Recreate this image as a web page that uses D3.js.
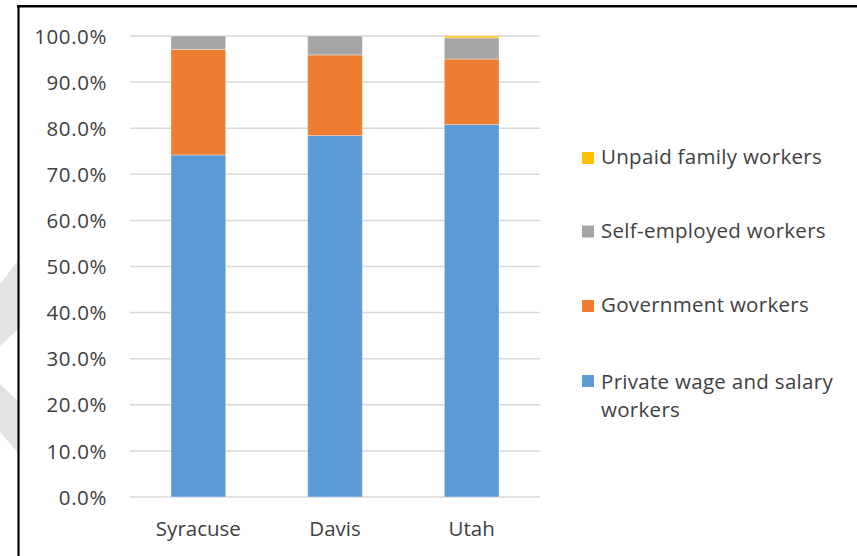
<!DOCTYPE html>
<html>
<head>
<meta charset="utf-8">
<script src="https://cdn.jsdelivr.net/npm/d3@7"></script>
<style>
  html, body { margin: 0; padding: 0; background: #fff; }
  svg { display: block; }
  text { font-family: "Open Sans", "Liberation Sans", sans-serif; fill: #404040; }
</style>
</head>
<body>
<svg id="chart" width="857" height="556"></svg>
<script>
const categories = ["Syracuse", "Davis", "Utah"];
const privateWage = [74.2, 78.4, 80.8];
const government = [22.9, 17.5, 14.2];
const selfEmployed = [2.9, 4.1, 4.6];
const unpaidFamily = [0.0, 0.0, 0.4];
const seriesNames = ["Private wage and salary workers", "Government workers", "Self-employed workers", "Unpaid family workers"];
const seriesColors = ["#5B9BD5", "#ED7D31", "#A5A5A5", "#FFC000"];
const yTicks = [0, 10, 20, 30, 40, 50, 60, 70, 80, 90, 100];

(function () {
const svg = d3.select("#chart");

// watermark chevron on the far left
const wm = svg.append("g").attr("fill", "#e3e3e3");
wm.append("polygon").attr("points", "0,284 17,262 17,330 0,346");
wm.append("polygon").attr("points", "0,384 17,400 17,452 0,432");

// frame
svg.append("line").attr("x1", 18.5).attr("x2", 18.5).attr("y1", 5).attr("y2", 556)
  .attr("stroke", "#000").attr("stroke-width", 2.2);
svg.append("line").attr("x1", 17).attr("x2", 857).attr("y1", 6.2).attr("y2", 6.2)
  .attr("stroke", "#000").attr("stroke-width", 2.4);

const pLeft = 130, pRight = 540, pTop = 36, pBottom = 497;

const x = d3.scaleBand().domain(categories).range([pLeft, pRight]).paddingInner(0.6).paddingOuter(0.3);
const y = d3.scaleLinear().domain([0, 100]).range([pBottom, pTop]);

// gridlines
svg.append("g").selectAll("line").data(yTicks).join("line")
  .attr("x1", pLeft).attr("x2", pRight)
  .attr("y1", d => y(d)).attr("y2", d => y(d))
  .attr("stroke", "#d9d9d9").attr("stroke-width", 1.5);

// y axis labels
const yAxis = d3.axisLeft(y).tickValues(yTicks).tickSize(0).tickPadding(0)
  .tickFormat(d => d.toFixed(1) + "%");
const yg = svg.append("g").attr("transform", `translate(107,0)`).call(yAxis);
yg.select(".domain").remove();
yg.selectAll("text").attr("font-size", 20.5).attr("fill", "#404040")
  .attr("letter-spacing", 0.6)
  .attr("font-family", "'Open Sans', sans-serif").attr("dy", "0.35em");

// x axis labels
const xAxis = d3.axisBottom(x).tickSize(0).tickPadding(0);
const xg = svg.append("g").attr("transform", `translate(0,${pBottom})`).call(xAxis);
xg.select(".domain").remove();
xg.selectAll("text").attr("font-size", 20.5).attr("fill", "#404040")
  .attr("font-family", "'Open Sans', sans-serif").attr("y", 39).attr("dy", 0);

// stacked bars
const rows = categories.map((c, i) => ({
  cat: c, s0: privateWage[i], s1: government[i], s2: selfEmployed[i], s3: unpaidFamily[i]
}));
const stack = d3.stack().keys(["s0", "s1", "s2", "s3"]);
const layers = stack(rows);
svg.append("g").selectAll("g").data(layers).join("g")
  .attr("fill", (d, i) => seriesColors[i])
  .selectAll("rect").data(d => d).join("rect")
  .attr("x", d => x(d.data.cat))
  .attr("width", x.bandwidth())
  .attr("y", d => y(d[1]))
  .attr("height", d => Math.max(0, y(d[0]) - y(d[1])))
  .attr("stroke", "rgba(255,255,255,0.35)").attr("stroke-width", 1);

// legend
const legendItems = [
  { name: ["Unpaid family workers"], color: seriesColors[3], sq: 152, base: 163.5 },
  { name: ["Self-employed workers"], color: seriesColors[2], sq: 225.5, base: 237.5 },
  { name: ["Government workers"], color: seriesColors[1], sq: 300, base: 312 },
  { name: ["Private wage and salary", "workers"], color: seriesColors[0], sq: 375, base: 389 }
];
const lg = svg.append("g");
legendItems.forEach(it => {
  lg.append("rect").attr("x", 582).attr("y", it.sq).attr("width", 12).attr("height", 12).attr("fill", it.color);
  const t = lg.append("text").attr("x", 601).attr("y", it.base).attr("font-size", 20.5)
    .attr("letter-spacing", 0.3);
  it.name.forEach((line, k) => {
    t.append("tspan").attr("x", 601).attr("y", it.base + k * 27.5).text(line);
  });
});
})();
</script>
</body>
</html>
